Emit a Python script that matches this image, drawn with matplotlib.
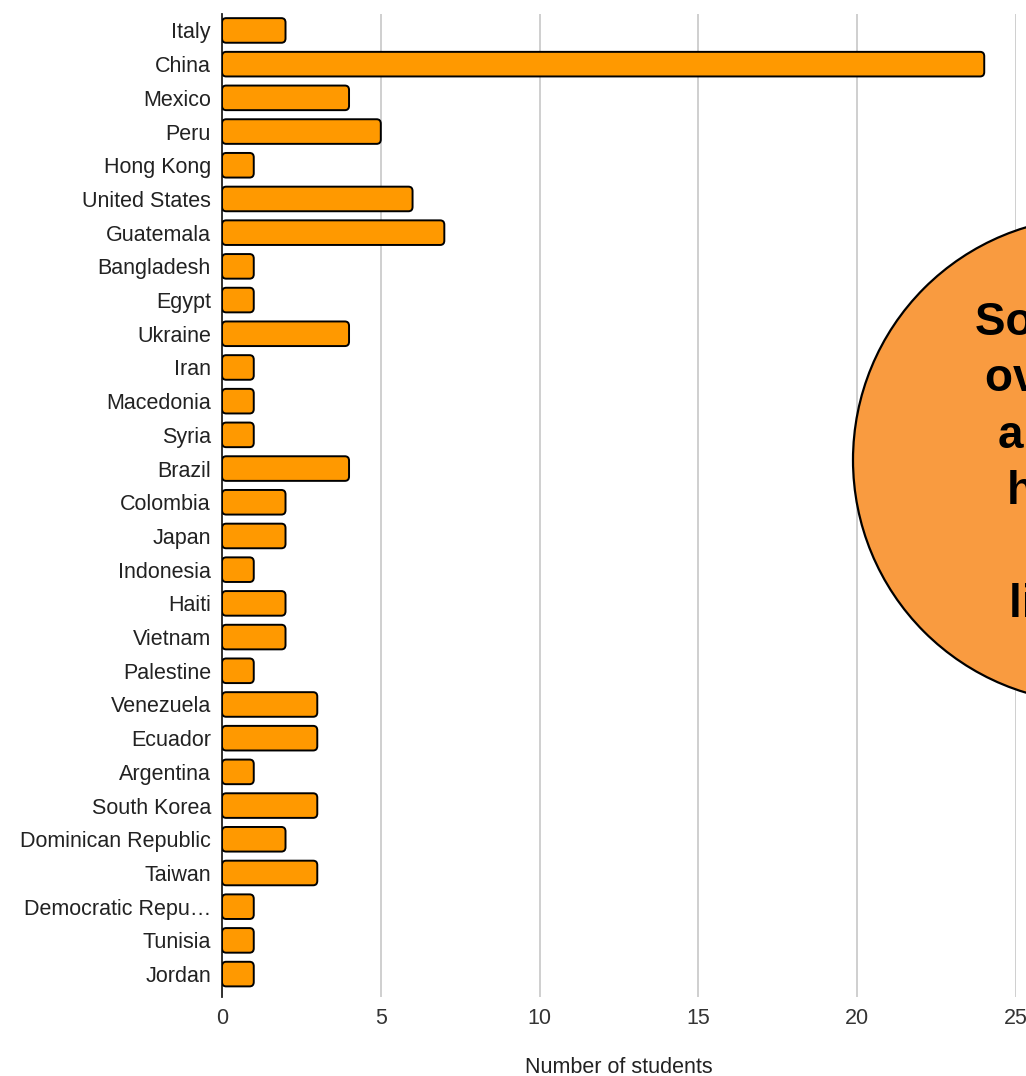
import matplotlib
matplotlib.use("Agg")
import matplotlib.pyplot as plt
from matplotlib.patches import FancyBboxPatch, Ellipse

countries = ["Italy", "China", "Mexico", "Peru", "Hong Kong", "United States",
             "Guatemala", "Bangladesh", "Egypt", "Ukraine", "Iran", "Macedonia",
             "Syria", "Brazil", "Colombia", "Japan", "Indonesia", "Haiti",
             "Vietnam", "Palestine", "Venezuela", "Ecuador", "Argentina",
             "South Korea", "Dominican Republic", "Taiwan", "Democratic Repu…",
             "Tunisia", "Jordan"]
students = [2, 24, 4, 5, 1, 6, 7, 1, 1, 4, 1, 1, 1, 4, 2, 2, 1, 2, 2, 1,
            3, 3, 1, 3, 2, 3, 1, 1, 1]
xticks = [0, 5, 10, 15, 20, 25]
xlabel = "Number of students"
bubble_text = "Some have\nover three\na chance\nheritage\nto\nliving in"

plt.rcParams['font.family'] = ['Liberation Sans', 'DejaVu Sans']

fig = plt.figure(figsize=(10.26, 10.76), dpi=100)
W, H = 1026, 1076
ax = fig.add_axes([222 / W, 1 - 997 / H, (1016 - 222) / W, (997 - 13.6) / H])

ypos = list(range(len(countries)))
bars = ax.barh(ypos, students, height=0.73, color="#FF9900",
               edgecolor="black", linewidth=1.4, zorder=3)
# replace with rounded versions
for b in bars:
    x0, y0 = b.get_x(), b.get_y()
    w, h = b.get_width(), b.get_height()
    b.set_visible(False)
    p = FancyBboxPatch((x0, y0), w, h,
                       boxstyle="round,pad=0,rounding_size=0.13",
                       mutation_aspect=1.0,
                       facecolor="#FF9900", edgecolor="black",
                       linewidth=1.4, zorder=3)
    ax.add_patch(p)

FS = 15.5
ax.set_xlim(0, 25)
ax.set_ylim(28.68, -0.5)
ax.set_yticks(ypos)
ax.set_yticklabels(countries, fontsize=FS, color="#222222")
ax.set_xticks(xticks)
ax.set_xticklabels([str(t) for t in xticks], fontsize=FS, color="#333333")
ax.tick_params(axis='both', length=0)
ax.tick_params(axis='y', pad=8)
ax.tick_params(axis='x', pad=8)

ax.grid(axis='x', color="#cccccc", linewidth=1.3, zorder=0)
ax.set_axisbelow(True)
for s in ["top", "right", "bottom"]:
    ax.spines[s].set_visible(False)
ax.spines["left"].set_color("#222222")
ax.spines["left"].set_linewidth(1.3)
ax.spines["left"].set_zorder(2)

ax.set_xlabel(xlabel, fontsize=FS, color="#222222", labelpad=20)

# bubble (partially outside the figure)
cx, cy, r = 1096, 460, 243
ell = Ellipse((cx / W, 1 - cy / H), 2 * r / W, 2 * r / H,
              transform=fig.transFigure, facecolor="#F99B40",
              edgecolor="black", linewidth=1.6, zorder=10)
fig.add_artist(ell)
fig.text(cx / W, 1 - (cy + 4) / H, bubble_text, ha="center", va="center",
         multialignment="center", fontsize=33, fontweight="bold",
         color="black", linespacing=1.37, zorder=11)

fig.savefig("out.png", dpi=100)
